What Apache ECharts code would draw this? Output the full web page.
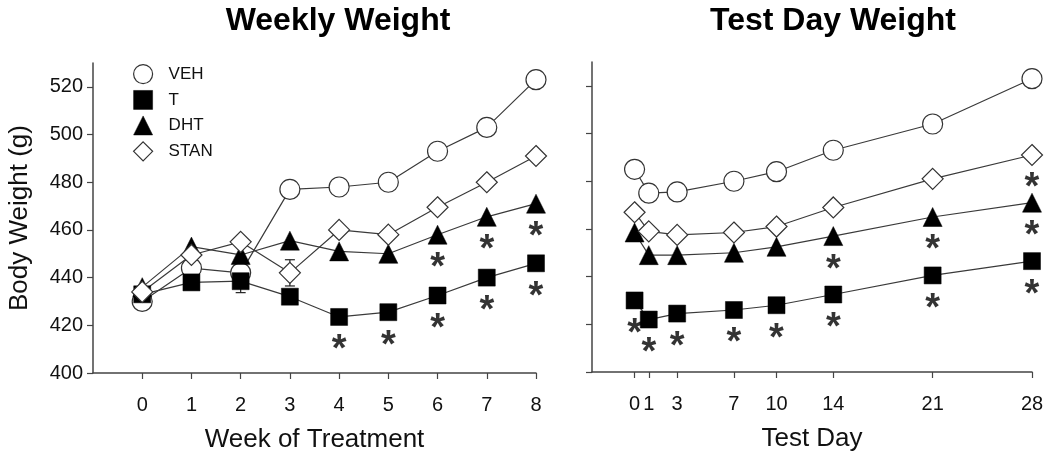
<!DOCTYPE html>
<html>
<head>
<meta charset="utf-8">
<script src="https://cdn.jsdelivr.net/npm/echarts@6/dist/echarts.min.js"></script>
<style>
html,body{margin:0;padding:0;background:#fff;}
#chart{width:1050px;height:458px;}
</style>
</head>
<body>
<div id="chart"></div>
<script>
// ---- data ----
const groups = ['VEH', 'T', 'DHT', 'STAN'];
const weeks = [0, 1, 2, 3, 4, 5, 6, 7, 8];
const vehWeekly  = [430, 444, 442, 477, 478, 480, 493, 503, 523];
const tWeekly    = [433, 438, 438.5, 432, 423.5, 425.5, 432.5, 440, 446];
const dhtWeekly  = [436, 453, 449.5, 455.5, 451, 450, 458, 465.5, 471];
const stanWeekly = [434, 449.5, 455, 442, 460, 458, 469.5, 480, 491];

const days = [0, 1, 3, 7, 10, 14, 21, 28];
const vehDay  = [485, 475, 475.5, 480, 484, 493, 504, 523];
const tDay    = [430, 422, 424.5, 426, 428, 432.5, 440.5, 446.5];
const dhtDay  = [458.5, 449, 449, 450, 452.5, 457, 465, 471];
const stanDay = [467, 459, 457.5, 458.5, 461, 469, 481, 491];

// significance markers (*): group, x position
const sigWeekly = [['T',4],['T',5],['T',6],['T',7],['T',8],['DHT',6],['DHT',7],['DHT',8]];
const sigDay = [['T',0],['T',1],['T',3],['T',7],['T',10],['T',14],['T',21],['T',28],['DHT',14],['DHT',21],['DHT',28],['STAN',28]];

// error bars: [x, mean, sem]
const errWeekly = [[2, 438.5, 4.8], [3, 442, 5.5]];

const yTicks = [400, 420, 440, 460, 480, 500, 520];
const weekTicks = [0, 1, 2, 3, 4, 5, 6, 7, 8];
const dayTicks = [0, 1, 3, 7, 10, 14, 21, 28];

// ---- styles ----
const FONT = 'Liberation Sans, Arial, sans-serif';
const lineCol = '#3a3a3a';
const symStyle = {
  VEH:  {symbol: 'circle',   size: 20, itemStyle: {color: '#fff', borderColor: '#333', borderWidth: 1.2}},
  T:    {symbol: 'rect',     size: 17, itemStyle: {color: '#000', borderColor: '#000', borderWidth: 0.5}},
  DHT:  {symbol: 'triangle', size: 19, itemStyle: {color: '#000', borderColor: '#000', borderWidth: 0.5}},
  STAN: {symbol: 'diamond',  size: 21, itemStyle: {color: '#fff', borderColor: '#333', borderWidth: 1.2}}
};
const weeklyData = {VEH: vehWeekly, T: tWeekly, DHT: dhtWeekly, STAN: stanWeekly};
const dayData = {VEH: vehDay, T: tDay, DHT: dhtDay, STAN: stanDay};

function lineSeries(name, xs, ys, idx) {
  const s = symStyle[name];
  return {
    name: name, type: 'line', xAxisIndex: idx, yAxisIndex: idx,
    data: xs.map((x, i) => [x, ys[i]]),
    symbol: s.symbol, symbolSize: s.size, showAllSymbol: true,
    itemStyle: s.itemStyle,
    lineStyle: {color: lineCol, width: 1.2},
    emphasis: {disabled: true}, animation: false
  };
}
function sigSeries(list, xs, dataMap, idx) {
  return {
    type: 'scatter', xAxisIndex: idx, yAxisIndex: idx, symbolSize: 0,
    data: list.map(([g, x]) => [x, dataMap[g][xs.indexOf(x)]]),
    label: {show: true, formatter: '*', position: 'inside', offset: [0, 34],
            fontSize: 38, fontWeight: 'bold', color: '#000', fontFamily: FONT},
    silent: true, animation: false, z: 5
  };
}
function errSeries(list, idx) {
  return {
    type: 'custom', xAxisIndex: idx, yAxisIndex: idx, silent: true, animation: false, z: 1,
    data: list,
    renderItem: function (params, api) {
      const x = api.value(0), m = api.value(1), e = api.value(2);
      const top = api.coord([x, m + e]), bot = api.coord([x, m - e]);
      const w = 5;
      const st = {stroke: '#222', lineWidth: 1.2};
      return {type: 'group', children: [
        {type: 'line', shape: {x1: top[0], y1: top[1], x2: bot[0], y2: bot[1]}, style: st},
        {type: 'line', shape: {x1: top[0]-w, y1: top[1], x2: top[0]+w, y2: top[1]}, style: st},
        {type: 'line', shape: {x1: bot[0]-w, y1: bot[1], x2: bot[0]+w, y2: bot[1]}, style: st}
      ]};
    }
  };
}

const axisLineStyle = {onZero: false, lineStyle: {color: '#444', width: 1.5}};
const tickStyle = {lineStyle: {color: '#444', width: 1.2}};
const labelStyle = {color: '#111', fontSize: 20, fontFamily: FONT};

const series = [];
groups.forEach(g => series.push(lineSeries(g, weeks, weeklyData[g], 0)));
groups.forEach(g => series.push(lineSeries(g, days, dayData[g], 1)));
series.push(errSeries(errWeekly, 0));
series.push(sigSeries(sigWeekly, weeks, weeklyData, 0));
series.push(sigSeries(sigDay, days, dayData, 1));

const option = {
  backgroundColor: '#fff',
  animation: false,
  title: [
    {text: 'Weekly Weight', left: 333, top: 0, textAlign: 'center',
     textStyle: {fontSize: 32, fontWeight: 'bold', color: '#000', fontFamily: FONT}},
    {text: 'Test Day Weight', left: 828, top: 0, textAlign: 'center',
     textStyle: {fontSize: 32, fontWeight: 'bold', color: '#000', fontFamily: FONT}}
  ],
  legend: {
    orient: 'vertical', left: 128, top: 59, itemWidth: 19, itemHeight: 19, itemGap: 6,
    textStyle: {fontSize: 17, color: '#111', fontFamily: FONT, padding: [0, 0, 0, 11]},
    data: groups.map(g => ({name: g, icon: symStyle[g].symbol, itemStyle: symStyle[g].itemStyle})),
    selectedMode: false
  },
  grid: [
    {left: 93, top: 63, width: 443, height: 310},
    {left: 592, top: 62, width: 440, height: 310}
  ],
  xAxis: [
    {type: 'value', gridIndex: 0, min: -1, max: 8, interval: 1,
     name: 'Week of Treatment', nameLocation: 'middle', nameGap: 54,
     nameTextStyle: {fontSize: 26, color: '#111', fontFamily: FONT},
     axisLine: axisLineStyle, axisTick: Object.assign({length: 6, customValues: weekTicks}, tickStyle),
     axisLabel: Object.assign({margin: 22, customValues: weekTicks}, labelStyle), splitLine: {show: false}},
    {type: 'value', gridIndex: 1, min: -3, max: 28,
     name: 'Test Day', nameLocation: 'middle', nameGap: 54,
     nameTextStyle: {fontSize: 26, color: '#111', fontFamily: FONT},
     axisLine: axisLineStyle, axisTick: Object.assign({length: 6, customValues: dayTicks}, tickStyle),
     axisLabel: Object.assign({margin: 22, customValues: dayTicks}, labelStyle), splitLine: {show: false}}
  ],
  yAxis: [
    {type: 'value', gridIndex: 0, min: 400, max: 530,
     name: 'Body Weight (g)', nameLocation: 'middle', nameGap: 60, nameRotate: 90,
     nameTextStyle: {fontSize: 26, color: '#111', fontFamily: FONT},
     axisLine: {show: true, onZero: false, lineStyle: {color: '#444', width: 1.5}},
     axisTick: Object.assign({show: true, length: 6, customValues: yTicks}, tickStyle),
     axisLabel: Object.assign({margin: 10, customValues: yTicks}, labelStyle), splitLine: {show: false}},
    {type: 'value', gridIndex: 1, min: 400, max: 530,
     axisLine: {show: true, onZero: false, lineStyle: {color: '#444', width: 1.5}},
     axisTick: Object.assign({show: true, length: 6, customValues: yTicks}, tickStyle),
     axisLabel: {show: false}, splitLine: {show: false}}
  ],
  series: series
};
const chart = echarts.init(document.getElementById('chart'), null, {renderer: 'canvas'});
chart.setOption(option);
</script>
</body>
</html>
